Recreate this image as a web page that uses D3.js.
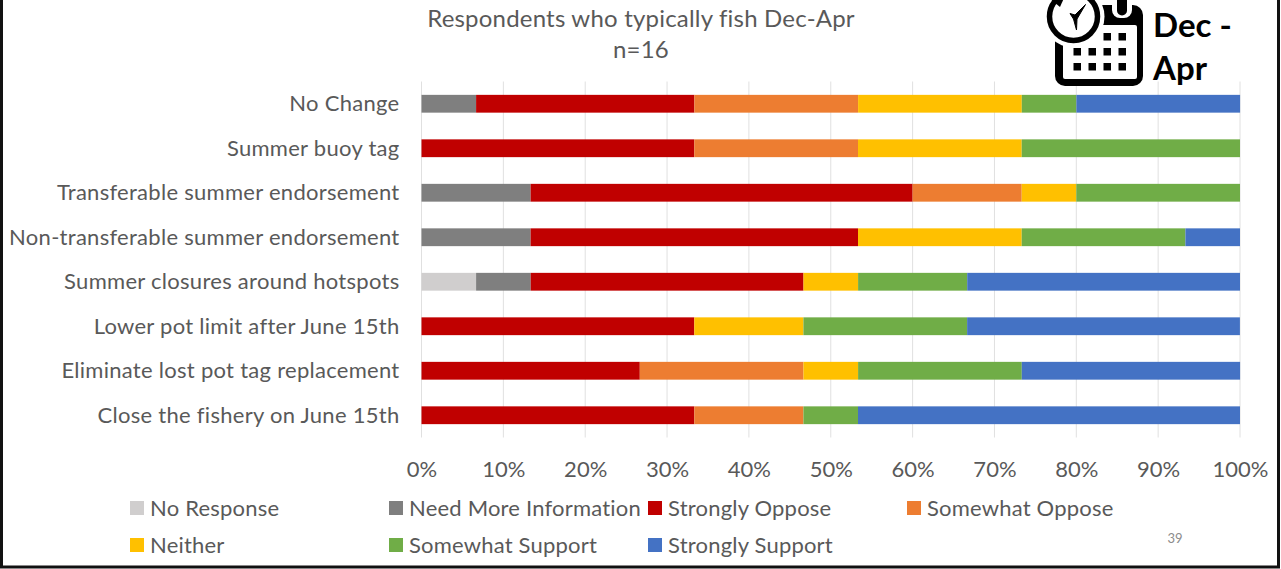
<!DOCTYPE html>
<html><head><meta charset="utf-8">
<script src="https://cdn.jsdelivr.net/npm/d3@7"></script>
<style>html,body{margin:0;padding:0;background:#fff;overflow:hidden}svg{display:block}text{font-family:Lato,"Open Sans",sans-serif}</style>
</head><body><div id="c"></div>
<script>
const categories=["No Change","Summer buoy tag","Transferable summer endorsement","Non-transferable summer endorsement","Summer closures around hotspots","Lower pot limit after June 15th","Eliminate lost pot tag replacement","Close the fishery on June 15th"];
const seriesNames=["No Response","Need More Information","Strongly Oppose","Somewhat Oppose","Neither","Somewhat Support","Strongly Support"];
const colors=["#d0cece","#7f7f7f","#c00000","#ed7d31","#ffc000","#70ad47","#4472c4"];
const noResponse=[0,0,0,0,6.67,0,0,0];
const needMoreInfo=[6.67,0,13.33,13.33,6.67,0,0,0];
const stronglyOppose=[26.67,33.33,46.67,40,33.33,33.33,26.67,33.33];
const somewhatOppose=[20,20,13.33,0,0,0,20,13.33];
const neither=[20,20,6.67,20,6.67,13.33,6.67,0];
const somewhatSupport=[6.67,26.67,20,20,13.33,20,20,6.67];
const stronglySupport=[20,0,0,6.67,33.33,33.33,26.67,46.67];
const xTicks=[0,10,20,30,40,50,60,70,80,90,100];
const seriesValues=[noResponse,needMoreInfo,stronglyOppose,somewhatOppose,neither,somewhatSupport,stronglySupport];

const W=1281,H=569;
const svg=d3.select("#c").append("svg").attr("width",W).attr("height",H);
svg.append("rect").attr("width",W).attr("height",H).attr("fill","#fff");

const x=d3.scaleLinear().domain([0,100]).range([421.5,1240]);
const y=d3.scaleBand().domain(categories).range([81.5,437.5]).paddingInner(0.6).paddingOuter(0.3);

// gridlines
svg.append("g").selectAll("line").data(xTicks).join("line")
 .attr("x1",d=>x(d)).attr("x2",d=>x(d)).attr("y1",81.5).attr("y2",437.5)
 .attr("stroke","#e0e0e0").attr("stroke-width",1);

// stacked bars
const rows=categories.map((c,i)=>{const r={category:c};seriesNames.forEach((s,j)=>r[s]=seriesValues[j][i]);return r;});
const stack=d3.stack().keys(seriesNames)(rows);
svg.append("g").selectAll("g").data(stack).join("g").attr("fill",(d,i)=>colors[i])
 .selectAll("rect").data(d=>d).join("rect")
 .attr("x",d=>x(d[0])).attr("width",d=>x(d[1])-x(d[0]))
 .attr("y",d=>y(d.data.category)).attr("height",y.bandwidth());

// axes
const yAxis=svg.append("g").attr("transform","translate(421.5,0.7)").call(d3.axisLeft(y).tickSize(0).tickPadding(22));
yAxis.select(".domain").remove();
yAxis.selectAll("text").attr("font-size",22).attr("fill","#595959").style("letter-spacing","0.28px").attr("dy","0.3em");
const xAxis=svg.append("g").attr("transform","translate(0,477)").call(d3.axisBottom(x).tickValues(xTicks).tickFormat(d=>d+"%").tickSize(0).tickPadding(0));
xAxis.select(".domain").remove();
xAxis.selectAll("text").attr("font-size",22).attr("fill","#595959").attr("y",0).attr("dy",0);

// title
svg.append("text").attr("x",641).attr("y",27).attr("text-anchor","middle").attr("font-size",24).attr("fill","#595959").style("letter-spacing","0.2px").text("Respondents who typically fish Dec-Apr");
svg.append("text").attr("x",641).attr("y",58).attr("text-anchor","middle").attr("font-size",24).attr("fill","#595959").style("letter-spacing","0.2px").text("n=16");

// legend
const legendPos=[[130,516],[389,516],[648,516],[907,516],[130,553],[389,553],[648,553]];
const lg=svg.append("g").selectAll("g").data(seriesNames).join("g").attr("transform",(d,i)=>`translate(${legendPos[i][0]},${legendPos[i][1]})`);
lg.append("rect").attr("x",0).attr("y",-15).attr("width",14).attr("height",14).attr("fill",(d,i)=>colors[i]);
lg.append("text").attr("x",20).attr("y",0).attr("font-size",22).attr("fill","#595959").style("letter-spacing","0.2px").text(d=>d);

svg.append("text").attr("x",1175).attr("y",543).attr("text-anchor","middle").attr("font-size",13).attr("fill","#8c8c8c").text("39");

// calendar/clock icon
const ic=svg.append("g");
ic.append("rect").attr("x",1055).attr("y",5).attr("width",88).attr("height",81).attr("rx",10).attr("fill","#000");
ic.append("rect").attr("x",1063).attr("y",25).attr("width",74).attr("height",54).attr("rx",2).attr("fill","#fff");
[[2,3],[0,1,2,3],[0,1,2,3]].forEach((cols,r)=>{
  cols.forEach(k=>ic.append("rect").attr("x",1073.5+k*15).attr("y",33+r*15).attr("width",7.5).attr("height",7.5).attr("fill","#000"));
});
ic.append("circle").attr("cx",1073.5).attr("cy",16.5).attr("r",31).attr("fill","#fff");
ic.append("circle").attr("cx",1073.5).attr("cy",16.5).attr("r",24).attr("fill","#fff").attr("stroke","#000").attr("stroke-width",5.5);
ic.append("path").attr("d","M1049 -2 L1064 -2 L1060 7 Z").attr("fill","#000");
ic.append("path").attr("d","M1085.5 4.5 L1077 19 L1076.5 30 L1073.5 19 L1070 13.5 L1075 15 Z").attr("fill","#000").attr("stroke","#000").attr("stroke-width",1).attr("stroke-linejoin","round");
ic.append("path").attr("d","M1112 0 H1132 V10 A8 8 0 0 1 1124 18 H1120 A8 8 0 0 1 1112 10 Z").attr("fill","#fff");
ic.append("path").attr("d","M1117 0 H1127 V10.5 A5 5 0 0 1 1117 10.5 Z").attr("fill","#000");
svg.append("text").attr("x",1153).attr("y",37).attr("font-size",33).attr("font-weight",700).attr("fill","#000").text("Dec -");
svg.append("text").attr("x",1153).attr("y",80).attr("font-size",33).attr("font-weight",700).attr("fill","#000").text("Apr");

// slide frame
svg.append("path").attr("d",`M1.5 0 V567 H1278.5 V0`).attr("fill","none").attr("stroke","#111").attr("stroke-width",3);
</script></body></html>
